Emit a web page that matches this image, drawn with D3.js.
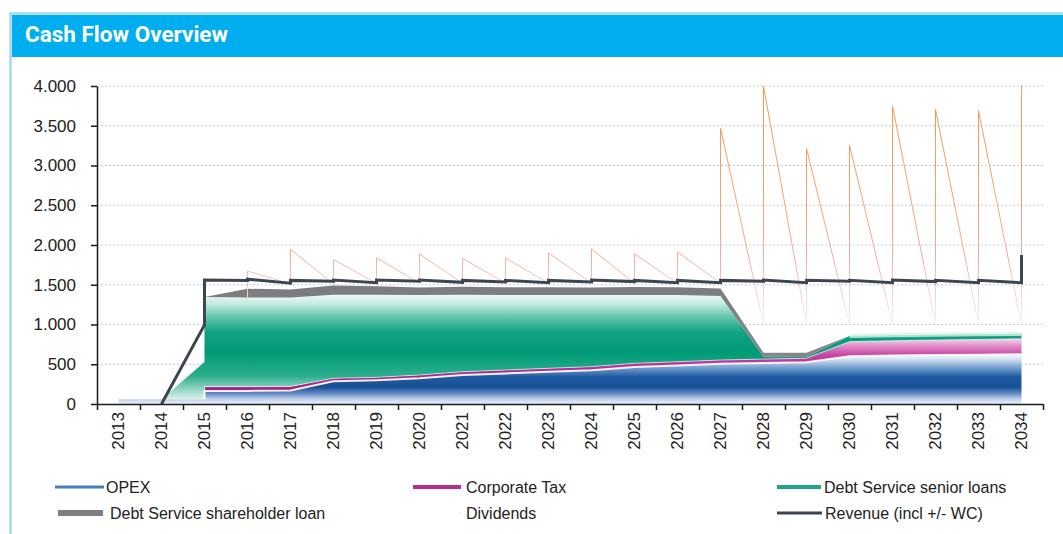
<!DOCTYPE html>
<html>
<head>
<meta charset="utf-8">
<script src="https://cdn.jsdelivr.net/npm/d3@7"></script>
<style>
  body { margin: 0; background: #fff; }
  text { font-family: "Liberation Sans", Arial, sans-serif; }
</style>
</head>
<body>
<svg id="chart" width="1063" height="534"></svg>
<script>
// categories and tick labels
var years = ["2013", "2014", "2015", "2016", "2017", "2018", "2019", "2020", "2021", "2022", "2023",
             "2024", "2025", "2026", "2027", "2028", "2029", "2030", "2031", "2032", "2033", "2034"];
var yTicks = [0, 500, 1000, 1500, 2000, 2500, 3000, 3500, 4000];

// one value per year, or [value at start of year, value after the step]
var opex = [60, 60, [60, 165], 165, 170, 285, 300, 325, 365, 385, 405, 425, 465, 485, 505, 515, 525, 600, 610, 615, 620, 625];
var corporateTax = [0, 0, [0, 53], 53, 50, 38, 35, 40, 41, 43, 44, 45, 47, 47, 48, 50, 50, 184, 185, 190, 192, 195];
var seniorLoans = [0, 0, [468, 1127], 1122, 1120, 1052, 1040, 1005, 969, 944, 923, 900, 860, 838, 807, 30, 15, 70, 70, 66, 64, 62];
var shareholderLoan = [0, 0, 0, 110, 100, 115, 105, 95, 100, 98, 98, 95, 100, 98, 92, 50, 55, 0, 0, 0, 0, 0];
var dividends = [null, null, null, [1300, 1673], [1510, 1946], [1510, 1816], [1520, 1840], [1520, 1887], [1520, 1833],
                 [1520, 1836], [1520, 1900], [1520, 1950], [1520, 1887], [1520, 1912], [1520, 3470], [1000, 4000],
                 [1000, 3216], [1000, 3258], [1000, 3750], [1000, 3706], [1000, 3690], [1000, 4000]];
var revenue = [null, 0, [994, 1560], [1555, 1570], [1520, 1555], [1545, 1560], [1525, 1560], [1545, 1560], [1530, 1555],
               [1535, 1555], [1525, 1555], [1535, 1560], [1540, 1555], [1525, 1555], [1526, 1555], [1545, 1560],
               [1526, 1556], [1545, 1556], [1526, 1560], [1540, 1556], [1526, 1556], [1526, 1874]];

var svg = d3.select("#chart");

// panel + header
svg.append("rect")
    .attr("x", 10.5).attr("y", 13.5).attr("width", 1060).attr("height", 530)
    .attr("fill", "#fff").attr("stroke", "#9fd9f3").attr("stroke-width", 2.5);
svg.append("rect")
    .attr("x", 12).attr("y", 15).attr("width", 1060).attr("height", 42)
    .attr("fill", "#00aeef");
svg.append("text")
    .attr("x", 25).attr("y", 42)
    .style("font-family", "Roboto, 'Open Sans', sans-serif")
    .style("font-weight", "700")
    .style("font-size", "22.5px")
    .attr("fill", "#fff")
    .text("Cash Flow Overview");

var x = d3.scaleLinear().domain([2012.5, 2034.5]).range([97, 1043]);
var y = d3.scaleLinear().domain([0, 4000]).range([404, 86]);

// build rows: two points per year (before / after the step)
function io(v) { return Array.isArray(v) ? v : [v, v]; }
var sources = { opex: opex, tax: corporateTax, senior: seniorLoans, shareholder: shareholderLoan,
                dividends: dividends, revenue: revenue };
var rows = [];
years.forEach(function(yr, i) {
    [0, 1].forEach(function(p) {
        var row = { year: +yr };
        Object.keys(sources).forEach(function(k) {
            var v = sources[k][i];
            row[k] = v == null ? null : io(v)[p];
        });
        rows.push(row);
    });
});

var keys = ["opex", "tax", "senior", "shareholder"];
var layers = d3.stack().keys(keys).value(function(d, k) { return d[k] || 0; })(rows);

// gradients
var defs = svg.append("defs");
function grad(id, stops) {
    var g = defs.append("linearGradient").attr("id", id)
        .attr("x1", 0).attr("y1", 0).attr("x2", 0).attr("y2", 1);
    stops.forEach(function(s) {
        g.append("stop").attr("offset", s[0]).attr("stop-color", s[1]);
    });
}
grad("g-opex", [[0, "#f4f8fc"], [0.08, "#dce8f5"], [0.25, "#7ea6d3"], [0.45, "#1f5ba3"],
                [0.66, "#184f96"], [0.78, "#5f88c2"], [0.9, "#bccfe9"], [1, "#eef3fa"]]);
grad("g-tax", [[0, "#f6d2ea"], [0.12, "#e08cc8"], [0.28, "#c441a2"], [0.6, "#a8288a"], [1, "#9c1f7c"]]);
grad("g-senior", [[0, "#eef8f6"], [0.08, "#c8ece4"], [0.2, "#6ccab2"], [0.35, "#14a384"],
                  [0.55, "#009a76"], [0.78, "#2cae8e"], [0.9, "#8fd4c2"], [1, "#dcf2ec"]]);
grad("g-share", [[0, "#7a7c80"], [1, "#8a8c90"]]);

var div = defs.append("linearGradient").attr("id", "g-div")
    .attr("gradientUnits", "userSpaceOnUse")
    .attr("x1", 0).attr("x2", 0).attr("y1", y(4000)).attr("y2", y(1000));
[[0, "#f59a50"], [0.45, "#f3a470"], [0.72, "#f3ac96"], [0.84, "#f6cac8"], [1, "#fcefef"]].forEach(function(s) {
    div.append("stop").attr("offset", s[0]).attr("stop-color", s[1]);
});

// gridlines
svg.append("g").selectAll("line")
    .data(yTicks.slice(1))
    .enter().append("line")
        .attr("x1", 97).attr("x2", 1043)
        .attr("y1", function(d) { return y(d); })
        .attr("y2", function(d) { return y(d); })
        .attr("stroke", "#c3ccd8")
        .attr("stroke-dasharray", "2,2");

// stacked areas
var area = d3.area()
    .x(function(d) { return x(d.data.year); })
    .y0(function(d) { return y(d[0]); })
    .y1(function(d) { return y(d[1]); });

var fills = { opex: "url(#g-opex)", tax: "url(#g-tax)", senior: "url(#g-senior)", shareholder: "url(#g-share)" };

svg.append("g").selectAll("path")
    .data(layers)
    .enter().append("path")
        .attr("d", area)
        .attr("fill", function(d) { return fills[d.key]; });

// thin light edges on the top of the areas
var edge = { opex: [2, 0.9, "#fff"], tax: [1, 0.6, "#fff"], senior: [4, 0.8, "#d8f1ea"] };
var topLine = d3.line()
    .x(function(d) { return x(d.data.year); })
    .y(function(d) { return y(d[1]); });
svg.append("g").selectAll("path")
    .data(layers.filter(function(l) { return edge[l.key]; }))
    .enter().append("path")
        .attr("d", function(l) {
            return topLine(l.filter(function(d) { return l.key == "senior" ? d.data.year >= 2030 : d.data.year >= 2015; }));
        })
        .attr("fill", "none")
        .attr("stroke", function(l) { return edge[l.key][2]; })
        .attr("stroke-opacity", function(l) { return edge[l.key][1]; })
        .attr("stroke-width", function(l) { return edge[l.key][0]; })
        .attr("stroke-linejoin", "round");

function dedupe(arr, k) {
    return arr.filter(function(d, i) {
        return i == 0 || d[k] !== arr[i - 1][k] || d.year !== arr[i - 1].year;
    });
}

// dividends
var divLine = d3.line()
    .defined(function(d) { return d.dividends != null; })
    .x(function(d) { return x(d.year); })
    .y(function(d) { return y(d.dividends); });
svg.append("path")
    .attr("d", divLine(dedupe(rows, "dividends")))
    .attr("fill", "none")
    .attr("stroke", "url(#g-div)")
    .attr("stroke-width", 1);

// revenue
var revLine = d3.line()
    .defined(function(d) { return d.revenue != null; })
    .x(function(d) { return x(d.year); })
    .y(function(d) { return y(d.revenue); });
svg.append("path")
    .attr("d", revLine(dedupe(rows, "revenue")))
    .attr("fill", "none")
    .attr("stroke", "#3c4650")
    .attr("stroke-width", 3);

// axes
var locale = d3.formatLocale({ decimal: ",", thousands: ".", grouping: [3], currency: ["", ""] });
var yAxis = svg.append("g")
    .attr("transform", "translate(97,0)")
    .call(d3.axisLeft(y).tickValues(yTicks).tickSize(6).tickSizeOuter(0).tickFormat(locale.format(",")));
yAxis.selectAll("text").attr("x", -21).style("font-size", "17px").attr("fill", "#222");

svg.append("g")
    .attr("transform", "translate(0,404)")
    .call(d3.axisBottom(x).tickValues(d3.range(2012.5, 2035, 1)).tickSize(6).tickSizeOuter(0).tickFormat(""));

svg.selectAll(".domain, .tick line").attr("stroke", "#1a1a1a").attr("stroke-width", 1.5);

svg.append("g").selectAll("text")
    .data(years)
    .enter().append("text")
        .attr("transform", function(d) { return "translate(" + x(+d) + ",412) rotate(-90)"; })
        .attr("dy", "0.35em")
        .attr("text-anchor", "end")
        .style("font-size", "17px")
        .attr("fill", "#222")
        .text(function(d) { return d; });

// legend
var legend = [
    { name: "OPEX", x: 55, w: 49, tx: 106, row: 0, color: "#4a7ebb", sw: 3 },
    { name: "Corporate Tax", x: 413, w: 48, tx: 466, row: 0, color: "#b4308f", sw: 4 },
    { name: "Debt Service senior loans", x: 777, w: 44, tx: 824, row: 0, color: "#1fa58a", sw: 4 },
    { name: "Debt Service shareholder loan", x: 58, w: 45, tx: 110, row: 1, color: "#7f7f7f", sw: 6 },
    { name: "Dividends", x: 459, w: 2, tx: 466, row: 1, color: "#f3d6d6", sw: 1 },
    { name: "Revenue (incl +/- WC)", x: 777, w: 45, tx: 825, row: 1, color: "#3c4650", sw: 3 }
];
var lg = svg.append("g").selectAll("g")
    .data(legend)
    .enter().append("g")
        .attr("transform", function(d) { return "translate(0," + (487 + d.row * 26) + ")"; });
lg.append("line")
    .attr("x1", function(d) { return d.x; })
    .attr("x2", function(d) { return d.x + d.w; })
    .attr("stroke", function(d) { return d.color; })
    .attr("stroke-width", function(d) { return d.sw; });
lg.append("text")
    .attr("x", function(d) { return d.tx; })
    .attr("dy", "0.35em")
    .style("font-size", "16px")
    .attr("fill", "#222")
    .text(function(d) { return d.name; });
</script>
</body>
</html>
